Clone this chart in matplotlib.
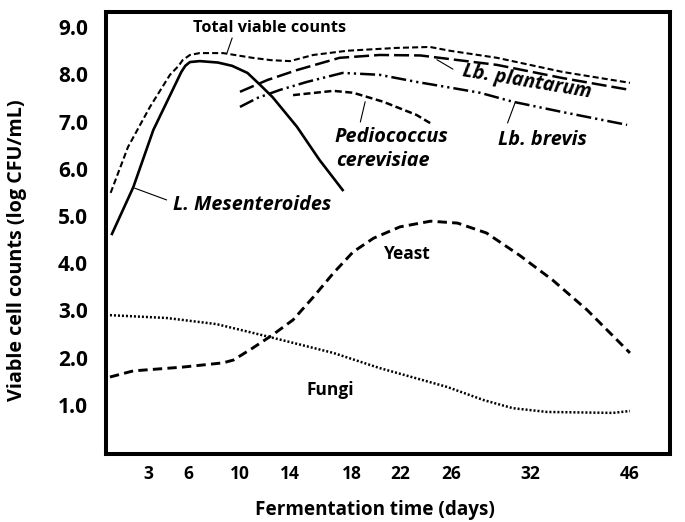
import numpy as np
import matplotlib.pyplot as plt

plt.rcParams['font.family'] = ['Open Sans', 'DejaVu Sans']

# ── axis setup ──────────────────────────────────────────────
# the day axis in the original figure is not evenly spaced
tick_days = [3, 6, 10, 14, 18, 22, 26, 32, 46]
tick_labels = ['3', '6', '10', '14', '18', '22', '26', '32', '46']
y_ticks = [1, 2, 3, 4, 5, 6, 7, 8, 9]
y_labels = ['1.0', '2.0', '3.0', '4.0', '5.0', '6.0', '7.0', '8.0', '9.0']

# scale anchors: day -> relative position on the axis
scale_days = [-1, 0, 3, 6, 10, 14, 18, 22, 26, 32, 46, 60]
scale_pos = [94.7, 108, 148, 188, 240, 290, 352, 400, 451, 530, 630, 730]

# ── data (log CFU/mL) ───────────────────────────────────────
mes_days = [0.3, 1.9, 3.4, 5.5, 5.8, 6.15, 6.9, 8.3, 9.4, 10.6, 11.6, 12.6, 14.45, 15.9, 17.4]
mes_vals = [4.62, 5.61, 6.82, 8.05, 8.18, 8.26, 8.28, 8.25, 8.18, 8.03, 7.78, 7.52, 6.89, 6.19, 5.55]

total_days = [0.2, 1.5, 3.15, 4.65, 5.3, 5.6, 6.15, 6.9, 8.7, 11.0, 12.5, 14.0, 15.5, 17.7, 21.75, 24.35, 25.9, 29.5, 36.6, 46]
total_vals = [5.49, 6.46, 7.31, 7.99, 8.18, 8.30, 8.41, 8.45, 8.45, 8.35, 8.30, 8.28, 8.41, 8.50, 8.56, 8.58, 8.50, 8.35, 8.05, 7.82]

plant_days = [10.0, 12.2, 14.45, 17.2, 20.3, 23.6, 29.5, 36.6, 46]
plant_vals = [7.63, 7.88, 8.09, 8.35, 8.41, 8.40, 8.20, 7.92, 7.67]

brevis_days = [10.0, 11.4, 13.2, 15.1, 17.4, 20.3, 23.3, 25.7, 28.2, 30.7, 36.6, 45.6]
brevis_vals = [7.31, 7.50, 7.67, 7.84, 8.03, 7.99, 7.84, 7.73, 7.61, 7.42, 7.20, 6.93]

pedio_days = [14.2, 16.8, 18.1, 20.6, 23.3, 24.6]
pedio_vals = [7.56, 7.65, 7.61, 7.42, 7.14, 6.93]

yeast_days = [0.15, 1.9, 5.6, 8.7, 9.5, 11.0, 12.6, 14.2, 15.5, 16.8, 18.1, 19.8, 22.0, 24.4, 26.5, 28.7, 31.2, 35.2, 40.0, 46]
yeast_vals = [1.59, 1.72, 1.80, 1.89, 1.95, 2.20, 2.48, 2.80, 3.28, 3.79, 4.24, 4.53, 4.77, 4.89, 4.85, 4.64, 4.17, 3.64, 3.01, 2.10]

fungi_days = [0.15, 4.4, 8.2, 10.8, 13.4, 16.8, 20.3, 25.7, 28.5, 30.7, 34.4, 43.6, 46]
fungi_vals = [2.90, 2.84, 2.71, 2.54, 2.37, 2.10, 1.78, 1.38, 1.10, 0.93, 0.85, 0.83, 0.87]

# ── plot ────────────────────────────────────────────────────
fig = plt.figure(figsize=(6.85, 5.22), dpi=100)
ax = fig.add_axes([0.1547, 0.1303, 0.8233, 0.8467])
ax.set_xscale('function', functions=(lambda d: np.interp(d, scale_days, scale_pos),
                                     lambda p: np.interp(p, scale_pos, scale_days)))

ax.plot(mes_days, mes_vals, color='black', lw=1.9, solid_joinstyle='round')
ax.plot(total_days, total_vals, color='black', lw=1.5, linestyle=(0, (2.9, 1.5)))
ax.plot(plant_days, plant_vals, color='black', lw=1.8, linestyle=(0, (6, 2)))
ax.plot(brevis_days, brevis_vals, color='black', lw=1.8, linestyle=(0, (6, 1.6, 0.9, 1.6, 0.9, 1.6)))
ax.plot(pedio_days, pedio_vals, color='black', lw=1.8, linestyle=(0, (2.8, 1.4)))
ax.plot(yeast_days, yeast_vals, color='black', lw=2.1, linestyle=(0, (3.2, 1.8)))
ax.plot(fungi_days, fungi_vals, color='black', lw=1.8, linestyle=(0, (0.8, 0.8)))

# curve labels and leader lines
lead = dict(arrowstyle='-', color='black', lw=0.8, shrinkA=0, shrinkB=0)
ax.text(6.4, 8.98, 'Total viable counts', fontsize=11.7, fontweight='bold', ha='left', va='center')
ax.annotate('', xy=(9.0, 8.45), xytext=(9.4, 8.77), arrowprops=lead)

ax.text(4.9, 5.23, 'L. Mesenteroides', fontsize=14.2, fontweight='bold', fontstyle='italic',
        ha='left', va='center')
ax.annotate('', xy=(2.0, 5.59), xytext=(4.4, 5.34), arrowprops=lead)

ax.text(31.8, 7.84, 'Lb. plantarum', fontsize=14, fontweight='bold', fontstyle='italic',
        ha='center', va='center', rotation=-9.5)
ax.annotate('', xy=(24.9, 8.31), xytext=(26.15, 8.11), arrowprops=lead)

ax.text(33.7, 6.61, 'Lb. brevis', fontsize=14.3, fontweight='bold', fontstyle='italic',
        ha='center', va='center')
ax.annotate('', xy=(30.9, 7.42), xytext=(30.3, 6.97), arrowprops=lead)

ax.text(16.9, 6.68, 'Pediococcus', fontsize=14.3, fontweight='bold', fontstyle='italic',
        ha='left', va='center')
ax.text(16.95, 6.16, 'cerevisiae', fontsize=14.3, fontweight='bold', fontstyle='italic',
        ha='left', va='center')
ax.annotate('', xy=(19.1, 7.42), xytext=(18.7, 6.99), arrowprops=lead)

ax.text(22.55, 4.19, 'Yeast', fontsize=12.5, fontweight='bold', ha='center', va='center')
ax.text(16.6, 1.31, 'Fungi', fontsize=12.5, fontweight='bold', ha='center', va='center')

# axes styling
ax.set_xlim(-0.15, 51.6)
ax.set_ylim(-0.04, 9.32)
ax.set_xticks(tick_days)
ax.set_xticklabels(tick_labels, fontsize=12.5, fontweight='bold')
ax.xaxis.set_minor_locator(plt.NullLocator())
ax.set_yticks(y_ticks)
ax.set_yticklabels(y_labels, fontsize=15, fontweight='bold')
ax.tick_params(axis='x', length=0, pad=8)
ax.tick_params(axis='y', length=0, pad=13)
for s in ax.spines.values():
    s.set_linewidth(2.9)

ax.set_xlabel('Fermentation time (days)', fontsize=13.6, fontweight='bold')
ax.set_ylabel('Viable cell counts (log CFU/mL)', fontsize=14.2, fontweight='bold')
ax.xaxis.set_label_coords(0.477, -0.104)
ax.yaxis.set_label_coords(-0.14, 0.46)

plt.savefig('out.png', dpi=100)
